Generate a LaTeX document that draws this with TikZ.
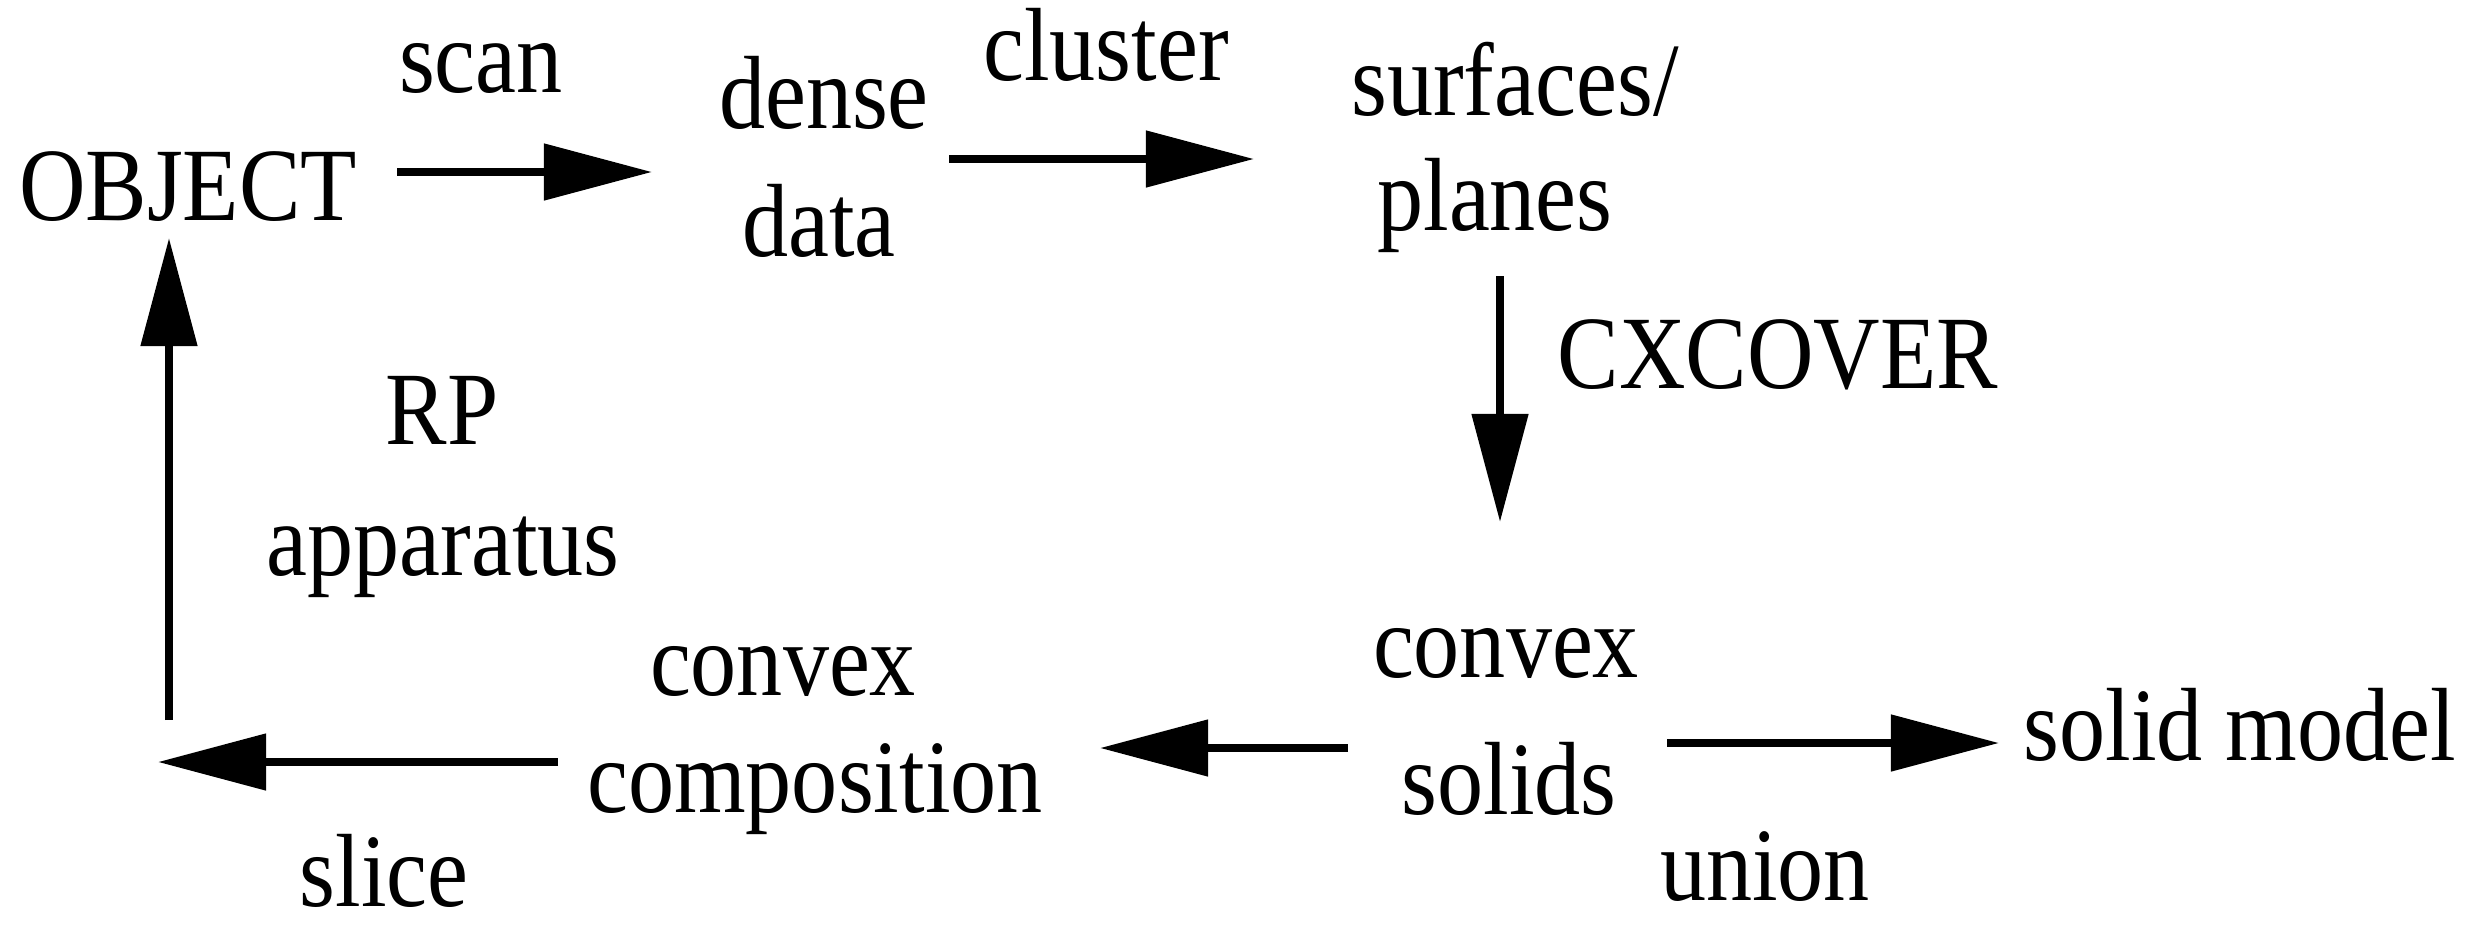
\documentclass[tikz,border=0pt]{standalone}
\usepackage{fontspec}
\setmainfont{Liberation Serif}[FakeStretch=0.885]
\usetikzlibrary{arrows.meta}
\begin{document}
\begin{tikzpicture}[x=0.01cm,y=-0.01cm,
  lbl/.style={inner sep=0pt,anchor=base,font=\fontsize{29.6pt}{34pt}\selectfont},
  flow/.style={line width=0.08cm,-{Triangle[length=1.08cm,width=0.55cm]}}]
\useasboundingbox[fill=white] (0,0) rectangle (2485,930);
% texts
\node[lbl] (object) at (188,220) {OBJECT};
\node[lbl] (scan) at (481,92) {scan};
\node[lbl] (dense) at (824,128) {dense};
\node[lbl] (data) at (819,256) {data};
\node[lbl] (cluster) at (1106,80) {cluster};
\node[lbl] (surfaces) at (1515,115) {surfaces/};
\node[lbl] (planes) at (1495,230) {planes};
\node[lbl,anchor=base west] (cxcover) at (1557,388) {CXCOVER};
\node[lbl] (convexR) at (1506,677) {convex};
\node[lbl] (solids) at (1509,814) {solids};
\node[lbl,anchor=base west] (model) at (2023,760) {solid model};
\node[lbl,text depth=0pt] (union) at (1765,900) {union};
\node[lbl] (convexL) at (783,695) {convex};
\node[lbl] (composition) at (815,812) {composition};
\node[lbl,text depth=0pt] (slice) at (384,906) {slice};
\node[lbl] (rp) at (442,444) {RP};
\node[lbl] (apparatus) at (443,575) {apparatus};
% arrow end points
\coordinate (a1s) at (397,172);  \coordinate (a1e) at (652,172);
\coordinate (a2s) at (949,159);  \coordinate (a2e) at (1254,159);
\coordinate (a3s) at (1500,276); \coordinate (a3e) at (1500,522);
\coordinate (a4s) at (1348,748); \coordinate (a4e) at (1100,748);
\coordinate (a5s) at (558,762);  \coordinate (a5e) at (158,762);
\coordinate (a6s) at (169,720);  \coordinate (a6e) at (169,238);
\coordinate (a7s) at (1667,743); \coordinate (a7e) at (1999,743);
\draw[flow] (a1s) -- (a1e);
\draw[flow] (a2s) -- (a2e);
\draw[flow] (a3s) -- (a3e);
\draw[flow] (a4s) -- (a4e);
\draw[flow] (a5s) -- (a5e);
\draw[flow] (a6s) -- (a6e);
\draw[flow] (a7s) -- (a7e);
\end{tikzpicture}
\end{document}
